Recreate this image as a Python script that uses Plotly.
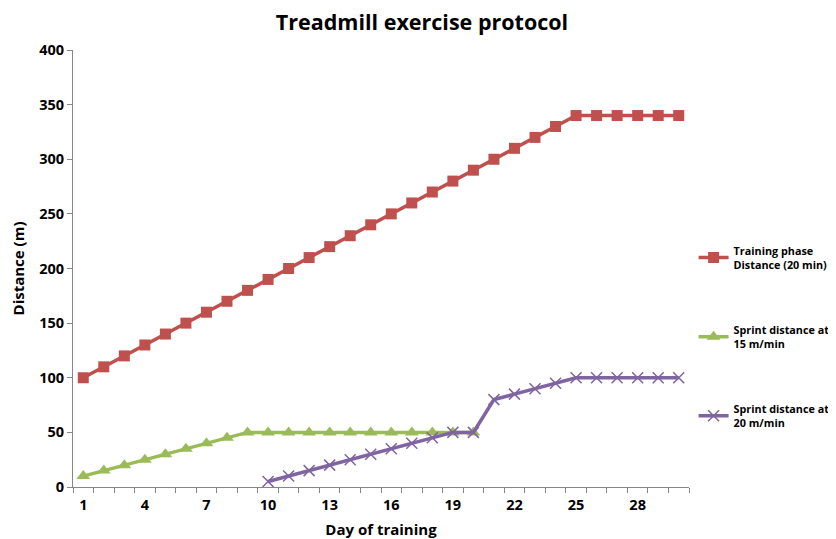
import plotly.graph_objects as go

days_red = list(range(1, 31))
red = [100, 110, 120, 130, 140, 150, 160, 170, 180, 190, 200, 210, 220, 230, 240,
       250, 260, 270, 280, 290, 300, 310, 320, 330, 340, 340, 340, 340, 340, 340]
days_green = list(range(1, 21))
green = [10, 15, 20, 25, 30, 35, 40, 45, 50, 50, 50, 50, 50, 50, 50, 50, 50, 50, 50, 50]
days_purple = list(range(10, 31))
purple = [5, 10, 15, 20, 25, 30, 35, 40, 45, 50, 50, 80, 85, 90, 95, 100, 100, 100, 100, 100, 100]
x_ticks = [1, 4, 7, 10, 13, 16, 19, 22, 25, 28]

font = "Open Sans"
fig = go.Figure()
fig.add_trace(go.Scatter(x=days_red, y=red, mode="lines+markers",
                         name="Training phase<br>Distance (20 min)", legendgroup="a",
                         line=dict(color="#C0504D", width=3.5),
                         marker=dict(symbol="square", size=11, color="#C0504D")))
fig.add_trace(go.Scatter(x=days_green, y=green, mode="lines+markers",
                         name="Sprint distance at<br>15 m/min", legendgroup="b",
                         line=dict(color="#9BBB59", width=3.5),
                         marker=dict(symbol="triangle-up", size=12, color="#9BBB59")))
fig.add_trace(go.Scatter(x=days_purple, y=purple, mode="lines+markers",
                         name="Sprint distance at<br>20 m/min", legendgroup="c",
                         line=dict(color="#8064A2", width=3.5),
                         marker=dict(symbol="x-thin", size=11, color="#8064A2",
                                     line=dict(color="#8064A2", width=1.5))))

fig.update_layout(
    width=828, height=531,
    paper_bgcolor="white", plot_bgcolor="white",
    margin=dict(l=65, r=147, t=42, b=52),
    title=dict(text="<b>Treadmill exercise protocol</b>", x=0.5, xanchor="center",
               y=1 - 14 / 531, yanchor="middle", font=dict(family=font, size=21.5, color="black")),
    font=dict(family=font, color="black"),
    legend=dict(xref="container", x=0.828, y=0.572, xanchor="left", yanchor="top",
                font=dict(family=font, size=10.8, color="black", weight="bold"),
                tracegroupgap=48, itemwidth=30, traceorder="grouped",
                bgcolor="rgba(0,0,0,0)"),
    xaxis=dict(range=[0.5, 30.5], tickmode="array", tickvals=x_ticks, automargin=False,
               ticktext=[str(v) for v in x_ticks], ticks="",
               showgrid=False, zeroline=False, showline=True, linecolor="#868686",
               linewidth=1, tickfont=dict(size=14.5, weight="bold"), ticklabelstandoff=5,
               minor=dict(tickmode="linear", tick0=0.5, dtick=1, ticks="outside",
                          ticklen=5, tickcolor="#868686", showgrid=False),
               title=dict(text="<b>Day of training</b>", font=dict(size=15), standoff=11)),
    yaxis=dict(range=[0, 400], tickmode="linear", tick0=0, dtick=50, ticks="outside",
               ticklen=5, tickcolor="#868686", automargin=False,
               showgrid=False, zeroline=False, showline=True, linecolor="#868686",
               linewidth=1, tickfont=dict(size=14.5, weight="bold"),
               title=dict(text="<b>Distance (m)</b>", font=dict(size=15), standoff=10)),
)
fig.write_html("out.html")
